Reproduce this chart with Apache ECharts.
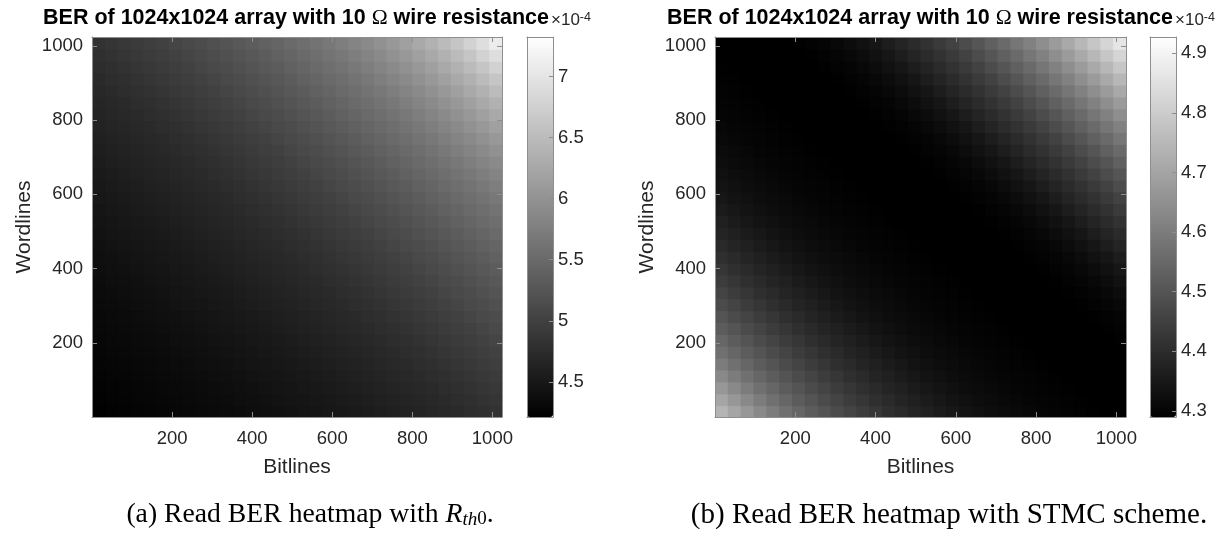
<!DOCTYPE html>
<html>
<head>
<meta charset="utf-8">
<script src="https://cdn.jsdelivr.net/npm/echarts@6/dist/echarts.min.js"></script>
<style>html,body{margin:0;padding:0;background:#fff}#c{width:1228px;height:540px}</style>
</head>
<body>
<div id="c"></div>
<script>
// ---- data (BER, x1e-4) ----
const bitlineCells = [16,48,80,112,144,176,208,240,272,304,336,368,400,432,464,496,528,560,592,624,656,688,720,752,784,816,848,880,912,944,976,1008];
const wordlineCells = [16,48,80,112,144,176,208,240,272,304,336,368,400,432,464,496,528,560,592,624,656,688,720,752,784,816,848,880,912,944,976,1008];
const axisRange = [0, 1024];
const axisStep = 200;
const cbarRangeA = [4.212, 7.324];
const cbarRangeB = [4.29, 4.927];
// rows: wordline cells from bottom to top; columns: bitline cells left to right
const berRth0 = [
[4.22,4.24,4.25,4.26,4.27,4.29,4.30,4.31,4.32,4.33,4.35,4.36,4.38,4.40,4.41,4.43,4.45,4.47,4.49,4.51,4.53,4.55,4.58,4.60,4.63,4.65,4.68,4.70,4.73,4.76,4.79,4.82],
[4.24,4.25,4.26,4.27,4.29,4.30,4.31,4.32,4.33,4.35,4.36,4.38,4.40,4.41,4.43,4.45,4.47,4.49,4.51,4.53,4.55,4.58,4.60,4.63,4.65,4.68,4.70,4.73,4.76,4.79,4.82,4.86],
[4.25,4.26,4.27,4.29,4.30,4.31,4.32,4.33,4.35,4.36,4.38,4.40,4.41,4.43,4.45,4.47,4.49,4.51,4.53,4.55,4.58,4.60,4.63,4.65,4.68,4.70,4.73,4.76,4.79,4.82,4.86,4.90],
[4.26,4.27,4.29,4.30,4.31,4.32,4.33,4.35,4.36,4.38,4.40,4.41,4.43,4.45,4.47,4.49,4.51,4.53,4.55,4.58,4.60,4.63,4.65,4.68,4.70,4.73,4.76,4.79,4.82,4.86,4.90,4.93],
[4.27,4.29,4.30,4.31,4.32,4.33,4.35,4.36,4.38,4.40,4.41,4.43,4.45,4.47,4.49,4.51,4.53,4.55,4.58,4.60,4.63,4.65,4.68,4.70,4.73,4.76,4.79,4.82,4.86,4.90,4.93,4.97],
[4.29,4.30,4.31,4.32,4.33,4.35,4.36,4.38,4.40,4.41,4.43,4.45,4.47,4.49,4.51,4.53,4.55,4.58,4.60,4.63,4.65,4.68,4.70,4.73,4.76,4.79,4.82,4.86,4.90,4.93,4.97,5.01],
[4.30,4.31,4.32,4.33,4.35,4.36,4.38,4.40,4.41,4.43,4.45,4.47,4.49,4.51,4.53,4.55,4.58,4.60,4.63,4.65,4.68,4.70,4.73,4.76,4.79,4.82,4.86,4.90,4.93,4.97,5.01,5.05],
[4.31,4.32,4.33,4.35,4.36,4.38,4.40,4.41,4.43,4.45,4.47,4.49,4.51,4.53,4.55,4.58,4.60,4.63,4.65,4.68,4.70,4.73,4.76,4.79,4.82,4.86,4.90,4.93,4.97,5.01,5.05,5.10],
[4.32,4.33,4.35,4.36,4.38,4.40,4.41,4.43,4.45,4.47,4.49,4.51,4.53,4.55,4.58,4.60,4.63,4.65,4.68,4.70,4.73,4.76,4.79,4.82,4.86,4.90,4.93,4.97,5.01,5.05,5.10,5.14],
[4.33,4.35,4.36,4.38,4.40,4.41,4.43,4.45,4.47,4.49,4.51,4.53,4.55,4.58,4.60,4.63,4.65,4.68,4.70,4.73,4.76,4.79,4.82,4.86,4.90,4.93,4.97,5.01,5.05,5.10,5.14,5.19],
[4.35,4.36,4.38,4.40,4.41,4.43,4.45,4.47,4.49,4.51,4.53,4.55,4.58,4.60,4.63,4.65,4.68,4.70,4.73,4.76,4.79,4.82,4.86,4.90,4.93,4.97,5.01,5.05,5.10,5.14,5.19,5.24],
[4.36,4.38,4.40,4.41,4.43,4.45,4.47,4.49,4.51,4.53,4.55,4.58,4.60,4.63,4.65,4.68,4.70,4.73,4.76,4.79,4.82,4.86,4.90,4.93,4.97,5.01,5.05,5.10,5.14,5.19,5.24,5.29],
[4.38,4.40,4.41,4.43,4.45,4.47,4.49,4.51,4.53,4.55,4.58,4.60,4.63,4.65,4.68,4.70,4.73,4.76,4.79,4.82,4.86,4.90,4.93,4.97,5.01,5.05,5.10,5.14,5.19,5.24,5.29,5.34],
[4.40,4.41,4.43,4.45,4.47,4.49,4.51,4.53,4.55,4.58,4.60,4.63,4.65,4.68,4.70,4.73,4.76,4.79,4.82,4.86,4.90,4.93,4.97,5.01,5.05,5.10,5.14,5.19,5.24,5.29,5.34,5.39],
[4.41,4.43,4.45,4.47,4.49,4.51,4.53,4.55,4.58,4.60,4.63,4.65,4.68,4.70,4.73,4.76,4.79,4.82,4.86,4.90,4.93,4.97,5.01,5.05,5.10,5.14,5.19,5.24,5.29,5.34,5.39,5.45],
[4.43,4.45,4.47,4.49,4.51,4.53,4.55,4.58,4.60,4.63,4.65,4.68,4.70,4.73,4.76,4.79,4.82,4.86,4.90,4.93,4.97,5.01,5.05,5.10,5.14,5.19,5.24,5.29,5.34,5.39,5.45,5.50],
[4.45,4.47,4.49,4.51,4.53,4.55,4.58,4.60,4.63,4.65,4.68,4.70,4.73,4.76,4.79,4.82,4.86,4.90,4.93,4.97,5.01,5.05,5.10,5.14,5.19,5.24,5.29,5.34,5.39,5.45,5.50,5.55],
[4.47,4.49,4.51,4.53,4.55,4.58,4.60,4.63,4.65,4.68,4.70,4.73,4.76,4.79,4.82,4.86,4.90,4.93,4.97,5.01,5.05,5.10,5.14,5.19,5.24,5.29,5.34,5.39,5.45,5.50,5.55,5.62],
[4.49,4.51,4.53,4.55,4.58,4.60,4.63,4.65,4.68,4.70,4.73,4.76,4.79,4.82,4.86,4.90,4.93,4.97,5.01,5.05,5.10,5.14,5.19,5.24,5.29,5.34,5.39,5.45,5.50,5.55,5.62,5.68],
[4.51,4.53,4.55,4.58,4.60,4.63,4.65,4.68,4.70,4.73,4.76,4.79,4.82,4.86,4.90,4.93,4.97,5.01,5.05,5.10,5.14,5.19,5.24,5.29,5.34,5.39,5.45,5.50,5.55,5.62,5.68,5.75],
[4.53,4.55,4.58,4.60,4.63,4.65,4.68,4.70,4.73,4.76,4.79,4.82,4.86,4.90,4.93,4.97,5.01,5.05,5.10,5.14,5.19,5.24,5.29,5.34,5.39,5.45,5.50,5.55,5.62,5.68,5.75,5.82],
[4.55,4.58,4.60,4.63,4.65,4.68,4.70,4.73,4.76,4.79,4.82,4.86,4.90,4.93,4.97,5.01,5.05,5.10,5.14,5.19,5.24,5.29,5.34,5.39,5.45,5.50,5.55,5.62,5.68,5.75,5.82,5.90],
[4.58,4.60,4.63,4.65,4.68,4.70,4.73,4.76,4.79,4.82,4.86,4.90,4.93,4.97,5.01,5.05,5.10,5.14,5.19,5.24,5.29,5.34,5.39,5.45,5.50,5.55,5.62,5.68,5.75,5.82,5.90,5.98],
[4.60,4.63,4.65,4.68,4.70,4.73,4.76,4.79,4.82,4.86,4.90,4.93,4.97,5.01,5.05,5.10,5.14,5.19,5.24,5.29,5.34,5.39,5.45,5.50,5.55,5.62,5.68,5.75,5.82,5.90,5.98,6.07],
[4.63,4.65,4.68,4.70,4.73,4.76,4.79,4.82,4.86,4.90,4.93,4.97,5.01,5.05,5.10,5.14,5.19,5.24,5.29,5.34,5.39,5.45,5.50,5.55,5.62,5.68,5.75,5.82,5.90,5.98,6.07,6.17],
[4.65,4.68,4.70,4.73,4.76,4.79,4.82,4.86,4.90,4.93,4.97,5.01,5.05,5.10,5.14,5.19,5.24,5.29,5.34,5.39,5.45,5.50,5.55,5.62,5.68,5.75,5.82,5.90,5.98,6.07,6.17,6.27],
[4.68,4.70,4.73,4.76,4.79,4.82,4.86,4.90,4.93,4.97,5.01,5.05,5.10,5.14,5.19,5.24,5.29,5.34,5.39,5.45,5.50,5.55,5.62,5.68,5.75,5.82,5.90,5.98,6.07,6.17,6.27,6.37],
[4.70,4.73,4.76,4.79,4.82,4.86,4.90,4.93,4.97,5.01,5.05,5.10,5.14,5.19,5.24,5.29,5.34,5.39,5.45,5.50,5.55,5.62,5.68,5.75,5.82,5.90,5.98,6.07,6.17,6.27,6.37,6.49],
[4.73,4.76,4.79,4.82,4.86,4.90,4.93,4.97,5.01,5.05,5.10,5.14,5.19,5.24,5.29,5.34,5.39,5.45,5.50,5.55,5.62,5.68,5.75,5.82,5.90,5.98,6.07,6.17,6.27,6.37,6.49,6.62],
[4.76,4.79,4.82,4.86,4.90,4.93,4.97,5.01,5.05,5.10,5.14,5.19,5.24,5.29,5.34,5.39,5.45,5.50,5.55,5.62,5.68,5.75,5.82,5.90,5.98,6.07,6.17,6.27,6.37,6.49,6.62,6.77],
[4.79,4.82,4.86,4.90,4.93,4.97,5.01,5.05,5.10,5.14,5.19,5.24,5.29,5.34,5.39,5.45,5.50,5.55,5.62,5.68,5.75,5.82,5.90,5.98,6.07,6.17,6.27,6.37,6.49,6.62,6.77,6.92],
[4.82,4.86,4.90,4.93,4.97,5.01,5.05,5.10,5.14,5.19,5.24,5.29,5.34,5.39,5.45,5.50,5.55,5.62,5.68,5.75,5.82,5.90,5.98,6.07,6.17,6.27,6.37,6.49,6.62,6.77,6.92,7.09]
];
const berStmc = [
[4.740,4.702,4.667,4.632,4.601,4.570,4.545,4.520,4.499,4.477,4.459,4.440,4.424,4.407,4.394,4.380,4.369,4.357,4.347,4.337,4.330,4.322,4.317,4.312,4.307,4.302,4.300,4.297,4.295,4.292,4.291,4.290],
[4.702,4.667,4.632,4.601,4.570,4.545,4.520,4.499,4.477,4.459,4.440,4.424,4.407,4.394,4.380,4.369,4.357,4.347,4.337,4.330,4.322,4.317,4.312,4.307,4.302,4.300,4.297,4.295,4.292,4.291,4.290,4.290],
[4.667,4.632,4.601,4.570,4.545,4.520,4.499,4.477,4.459,4.440,4.424,4.407,4.394,4.380,4.369,4.357,4.347,4.337,4.330,4.322,4.317,4.312,4.307,4.302,4.300,4.297,4.295,4.292,4.291,4.290,4.290,4.290],
[4.632,4.601,4.570,4.545,4.520,4.499,4.477,4.459,4.440,4.424,4.407,4.394,4.380,4.369,4.357,4.347,4.337,4.330,4.322,4.317,4.312,4.307,4.302,4.300,4.297,4.295,4.292,4.291,4.290,4.290,4.290,4.290],
[4.601,4.570,4.545,4.520,4.499,4.477,4.459,4.440,4.424,4.407,4.394,4.380,4.369,4.357,4.347,4.337,4.330,4.322,4.317,4.312,4.307,4.302,4.300,4.297,4.295,4.292,4.291,4.290,4.290,4.290,4.290,4.290],
[4.570,4.545,4.520,4.499,4.477,4.459,4.440,4.424,4.407,4.394,4.380,4.369,4.357,4.347,4.337,4.330,4.322,4.317,4.312,4.307,4.302,4.300,4.297,4.295,4.292,4.291,4.290,4.290,4.290,4.290,4.290,4.291],
[4.545,4.520,4.499,4.477,4.459,4.440,4.424,4.407,4.394,4.380,4.369,4.357,4.347,4.337,4.330,4.322,4.317,4.312,4.307,4.302,4.300,4.297,4.295,4.292,4.291,4.290,4.290,4.290,4.290,4.290,4.291,4.292],
[4.520,4.499,4.477,4.459,4.440,4.424,4.407,4.394,4.380,4.369,4.357,4.347,4.337,4.330,4.322,4.317,4.312,4.307,4.302,4.300,4.297,4.295,4.292,4.291,4.290,4.290,4.290,4.290,4.290,4.291,4.292,4.297],
[4.499,4.477,4.459,4.440,4.424,4.407,4.394,4.380,4.369,4.357,4.347,4.337,4.330,4.322,4.317,4.312,4.307,4.302,4.300,4.297,4.295,4.292,4.291,4.290,4.290,4.290,4.290,4.290,4.291,4.292,4.297,4.302],
[4.477,4.459,4.440,4.424,4.407,4.394,4.380,4.369,4.357,4.347,4.337,4.330,4.322,4.317,4.312,4.307,4.302,4.300,4.297,4.295,4.292,4.291,4.290,4.290,4.290,4.290,4.290,4.291,4.292,4.297,4.302,4.311],
[4.459,4.440,4.424,4.407,4.394,4.380,4.369,4.357,4.347,4.337,4.330,4.322,4.317,4.312,4.307,4.302,4.300,4.297,4.295,4.292,4.291,4.290,4.290,4.290,4.290,4.290,4.291,4.292,4.297,4.302,4.311,4.320],
[4.440,4.424,4.407,4.394,4.380,4.369,4.357,4.347,4.337,4.330,4.322,4.317,4.312,4.307,4.302,4.300,4.297,4.295,4.292,4.291,4.290,4.290,4.290,4.290,4.290,4.291,4.292,4.297,4.302,4.311,4.320,4.332],
[4.424,4.407,4.394,4.380,4.369,4.357,4.347,4.337,4.330,4.322,4.317,4.312,4.307,4.302,4.300,4.297,4.295,4.292,4.291,4.290,4.290,4.290,4.290,4.290,4.291,4.292,4.297,4.302,4.311,4.320,4.332,4.345],
[4.407,4.394,4.380,4.369,4.357,4.347,4.337,4.330,4.322,4.317,4.312,4.307,4.302,4.300,4.297,4.295,4.292,4.291,4.290,4.290,4.290,4.290,4.290,4.291,4.292,4.297,4.302,4.311,4.320,4.332,4.345,4.362],
[4.394,4.380,4.369,4.357,4.347,4.337,4.330,4.322,4.317,4.312,4.307,4.302,4.300,4.297,4.295,4.292,4.291,4.290,4.290,4.290,4.290,4.290,4.291,4.292,4.297,4.302,4.311,4.320,4.332,4.345,4.362,4.380],
[4.380,4.369,4.357,4.347,4.337,4.330,4.322,4.317,4.312,4.307,4.302,4.300,4.297,4.295,4.292,4.291,4.290,4.290,4.290,4.290,4.290,4.291,4.292,4.297,4.302,4.311,4.320,4.332,4.345,4.362,4.380,4.397],
[4.369,4.357,4.347,4.337,4.330,4.322,4.317,4.312,4.307,4.302,4.300,4.297,4.295,4.292,4.291,4.290,4.290,4.290,4.290,4.290,4.291,4.292,4.297,4.302,4.311,4.320,4.332,4.345,4.362,4.380,4.397,4.415],
[4.357,4.347,4.337,4.330,4.322,4.317,4.312,4.307,4.302,4.300,4.297,4.295,4.292,4.291,4.290,4.290,4.290,4.290,4.290,4.291,4.292,4.297,4.302,4.311,4.320,4.332,4.345,4.362,4.380,4.397,4.415,4.435],
[4.347,4.337,4.330,4.322,4.317,4.312,4.307,4.302,4.300,4.297,4.295,4.292,4.291,4.290,4.290,4.290,4.290,4.290,4.291,4.292,4.297,4.302,4.311,4.320,4.332,4.345,4.362,4.380,4.397,4.415,4.435,4.455],
[4.337,4.330,4.322,4.317,4.312,4.307,4.302,4.300,4.297,4.295,4.292,4.291,4.290,4.290,4.290,4.290,4.290,4.291,4.292,4.297,4.302,4.311,4.320,4.332,4.345,4.362,4.380,4.397,4.415,4.435,4.455,4.479],
[4.330,4.322,4.317,4.312,4.307,4.302,4.300,4.297,4.295,4.292,4.291,4.290,4.290,4.290,4.290,4.290,4.291,4.292,4.297,4.302,4.311,4.320,4.332,4.345,4.362,4.380,4.397,4.415,4.435,4.455,4.479,4.502],
[4.322,4.317,4.312,4.307,4.302,4.300,4.297,4.295,4.292,4.291,4.290,4.290,4.290,4.290,4.290,4.291,4.292,4.297,4.302,4.311,4.320,4.332,4.345,4.362,4.380,4.397,4.415,4.435,4.455,4.479,4.502,4.529],
[4.317,4.312,4.307,4.302,4.300,4.297,4.295,4.292,4.291,4.290,4.290,4.290,4.290,4.290,4.291,4.292,4.297,4.302,4.311,4.320,4.332,4.345,4.362,4.380,4.397,4.415,4.435,4.455,4.479,4.502,4.529,4.555],
[4.312,4.307,4.302,4.300,4.297,4.295,4.292,4.291,4.290,4.290,4.290,4.290,4.290,4.291,4.292,4.297,4.302,4.311,4.320,4.332,4.345,4.362,4.380,4.397,4.415,4.435,4.455,4.479,4.502,4.529,4.555,4.584],
[4.307,4.302,4.300,4.297,4.295,4.292,4.291,4.290,4.290,4.290,4.290,4.290,4.291,4.292,4.297,4.302,4.311,4.320,4.332,4.345,4.362,4.380,4.397,4.415,4.435,4.455,4.479,4.502,4.529,4.555,4.584,4.612],
[4.302,4.300,4.297,4.295,4.292,4.291,4.290,4.290,4.290,4.290,4.290,4.291,4.292,4.297,4.302,4.311,4.320,4.332,4.345,4.362,4.380,4.397,4.415,4.435,4.455,4.479,4.502,4.529,4.555,4.584,4.612,4.645],
[4.300,4.297,4.295,4.292,4.291,4.290,4.290,4.290,4.290,4.290,4.291,4.292,4.297,4.302,4.311,4.320,4.332,4.345,4.362,4.380,4.397,4.415,4.435,4.455,4.479,4.502,4.529,4.555,4.584,4.612,4.645,4.677],
[4.297,4.295,4.292,4.291,4.290,4.290,4.290,4.290,4.290,4.291,4.292,4.297,4.302,4.311,4.320,4.332,4.345,4.362,4.380,4.397,4.415,4.435,4.455,4.479,4.502,4.529,4.555,4.584,4.612,4.645,4.677,4.712],
[4.295,4.292,4.291,4.290,4.290,4.290,4.290,4.290,4.291,4.292,4.297,4.302,4.311,4.320,4.332,4.345,4.362,4.380,4.397,4.415,4.435,4.455,4.479,4.502,4.529,4.555,4.584,4.612,4.645,4.677,4.712,4.747],
[4.292,4.291,4.290,4.290,4.290,4.290,4.290,4.291,4.292,4.297,4.302,4.311,4.320,4.332,4.345,4.362,4.380,4.397,4.415,4.435,4.455,4.479,4.502,4.529,4.555,4.584,4.612,4.645,4.677,4.712,4.747,4.785],
[4.291,4.290,4.290,4.290,4.290,4.290,4.291,4.292,4.297,4.302,4.311,4.320,4.332,4.345,4.362,4.380,4.397,4.415,4.435,4.455,4.479,4.502,4.529,4.555,4.584,4.612,4.645,4.677,4.712,4.747,4.785,4.822],
[4.290,4.290,4.290,4.290,4.290,4.291,4.292,4.297,4.302,4.311,4.320,4.332,4.345,4.362,4.380,4.397,4.415,4.435,4.455,4.479,4.502,4.529,4.555,4.584,4.612,4.645,4.677,4.712,4.747,4.785,4.822,4.862]
];
const titleText = 'BER of 1024x1024 array with 10 ';
const titleOmega = 'Ω';
const titleTail = ' wire resistance';
const xName = 'Bitlines';
const yName = 'Wordlines';

// ---- layout ----
const FONT = '"Liberation Sans", Arial, sans-serif';
const SERIF = '"Liberation Serif", "Times New Roman", serif';
const LINE = '#8e8e8e';
const TXT = '#262626';
const panels = [
  {grid: {left: 92, top: 37, width: 410, height: 380}, cbar: {left: 527, top: 37, width: 26, height: 380}, data: berRth0, range: cbarRangeA},
  {grid: {left: 715, top: 37, width: 411, height: 380}, cbar: {left: 1150, top: 37, width: 26, height: 380}, data: berStmc, range: cbarRangeB}
];
const half = (bitlineCells[1] - bitlineCells[0]) / 2;
const plainNum = v => String(v);

function renderCell(params, api) {
  const x = api.value(0), y = api.value(1);
  const a = api.coord([x - half, y + half]);
  const b = api.coord([x + half, y - half]);
  const padR = (x + half < axisRange[1]) ? 1 : 0;
  const padB = (y - half > axisRange[0]) ? 1 : 0;
  return {type: 'rect', shape: {x: a[0], y: a[1], width: b[0] - a[0] + padR, height: b[1] - a[1] + padB},
          style: {fill: api.visual('color')}};
}

const grid = [], xAxis = [], yAxis = [], series = [], visualMap = [];
panels.forEach((p, pi) => {
  const g = grid.length;
  grid.push(p.grid);
  const gc = grid.length;
  grid.push(p.cbar);
  const valAxisBase = {
    type: 'value', gridIndex: g, min: axisRange[0], max: axisRange[1], interval: axisStep, z: 10,
    axisLine: {show: true, onZero: false, lineStyle: {color: LINE, width: 1}},
    axisTick: {show: true, inside: true, length: 5, lineStyle: {color: LINE}},
    splitLine: {show: false}
  };
  const vx = xAxis.length;
  xAxis.push(Object.assign({}, valAxisBase, {
    position: 'bottom', name: xName, nameLocation: 'middle', nameGap: 40,
    nameTextStyle: {fontFamily: FONT, fontSize: 21, color: TXT},
    axisLabel: {show: true, margin: 12, fontFamily: FONT, fontSize: 18.5, color: TXT, showMinLabel: false, showMaxLabel: false, formatter: plainNum}
  }));
  xAxis.push(Object.assign({}, valAxisBase, {position: 'top', axisLabel: {show: false}}));
  const vy = yAxis.length;
  yAxis.push(Object.assign({}, valAxisBase, {
    position: 'left', name: yName, nameLocation: 'middle', nameGap: 57,
    nameTextStyle: {fontFamily: FONT, fontSize: 21, color: TXT},
    axisLabel: {show: true, margin: 9, fontFamily: FONT, fontSize: 18.5, color: TXT, showMinLabel: false, showMaxLabel: false, formatter: plainNum}
  }));
  yAxis.push(Object.assign({}, valAxisBase, {position: 'right', axisLabel: {show: false}}));
  // colorbar axes
  yAxis.push({
    type: 'value', gridIndex: gc, position: 'right', min: p.range[0], max: p.range[1], z: 10,
    axisLine: {show: true, onZero: false, lineStyle: {color: LINE, width: 1}},
    axisTick: {show: true, inside: true, length: 4, lineStyle: {color: LINE}},
    splitLine: {show: false},
    axisLabel: {show: true, margin: 5, fontFamily: FONT, fontSize: 18.5, color: TXT, showMinLabel: false, showMaxLabel: false, formatter: plainNum}
  });
  yAxis.push({type: 'value', gridIndex: gc, position: 'left', min: 0, max: 1, z: 10,
    axisLine: {show: true, onZero: false, lineStyle: {color: LINE, width: 1}}, axisTick: {show: false}, axisLabel: {show: false}, splitLine: {show: false}});
  xAxis.push({type: 'value', gridIndex: gc, position: 'bottom', min: 0, max: 1, z: 10,
    axisLine: {show: true, onZero: false, lineStyle: {color: LINE, width: 1}}, axisTick: {show: false}, axisLabel: {show: false}, splitLine: {show: false}});
  xAxis.push({type: 'value', gridIndex: gc, position: 'top', min: 0, max: 1, z: 10,
    axisLine: {show: true, onZero: false, lineStyle: {color: LINE, width: 1}}, axisTick: {show: false}, axisLabel: {show: false}, splitLine: {show: false}});

  const cells = [];
  p.data.forEach((row, j) => row.forEach((v, i) => cells.push([bitlineCells[i], wordlineCells[j], v])));
  series.push({type: 'custom', xAxisIndex: vx, yAxisIndex: vy, data: cells, silent: true,
    encode: {x: 0, y: 1}, renderItem: renderCell, z: 2});
  visualMap.push({
    type: 'continuous', seriesIndex: pi, dimension: 2, min: p.range[0], max: p.range[1], calculable: false,
    orient: 'vertical', left: p.cbar.left, top: p.cbar.top, itemWidth: p.cbar.width, itemHeight: p.cbar.height,
    padding: 0, text: null, hoverLink: false, inRange: {color: ['#000000', '#ffffff']}
  });
});

const graphic = [];
[[296, 551], [920, 1175]].forEach(([cx, sx]) => {
  graphic.push({type: 'text', x: cx, y: 18, silent: true, style: {
    text: '{b|' + titleText + '}{o|' + titleOmega + '}{b|' + titleTail + '}',
    align: 'center', verticalAlign: 'middle', fill: '#000',
    rich: {b: {fontFamily: FONT, fontWeight: 'bold', fontSize: 21.5, fill: '#000'},
           o: {fontFamily: SERIF, fontSize: 21.5, fill: '#000'}}
  }});
  graphic.push({type: 'text', x: sx, y: 20, silent: true, style: {
    text: '{a|×10}{s|-4}', align: 'left', verticalAlign: 'middle',
    rich: {a: {fontFamily: FONT, fontSize: 17, fill: TXT, verticalAlign: 'bottom'},
           s: {fontFamily: FONT, fontSize: 12.5, fill: TXT, verticalAlign: 'top'}}
  }});
});
graphic.push({type: 'text', x: 310, y: 515, silent: true, style: {
  text: '{n|(a) Read BER heatmap with }{i|R}{si|th}{s0|0}{n|.}', align: 'center', verticalAlign: 'middle',
  rich: {n: {fontFamily: SERIF, fontSize: 27.7, fill: '#000'},
         i: {fontFamily: SERIF, fontStyle: 'italic', fontSize: 27.7, fill: '#000'},
         si: {fontFamily: SERIF, fontStyle: 'italic', fontSize: 19, fill: '#000', verticalAlign: 'bottom', padding: [8, 0, 0, 0]},
         s0: {fontFamily: SERIF, fontSize: 19, fill: '#000', verticalAlign: 'bottom', padding: [8, 0, 0, 0]}}
}});
graphic.push({type: 'text', x: 949, y: 515, silent: true, style: {
  text: '(b) Read BER heatmap with STMC scheme.', align: 'center', verticalAlign: 'middle',
  font: '29px ' + SERIF, fill: '#000'
}});

const chart = echarts.init(document.getElementById('c'), null, {renderer: 'canvas'});
chart.setOption({
  animation: false, backgroundColor: '#ffffff',
  grid, xAxis, yAxis, series, visualMap, graphic
});
</script>
</body>
</html>
